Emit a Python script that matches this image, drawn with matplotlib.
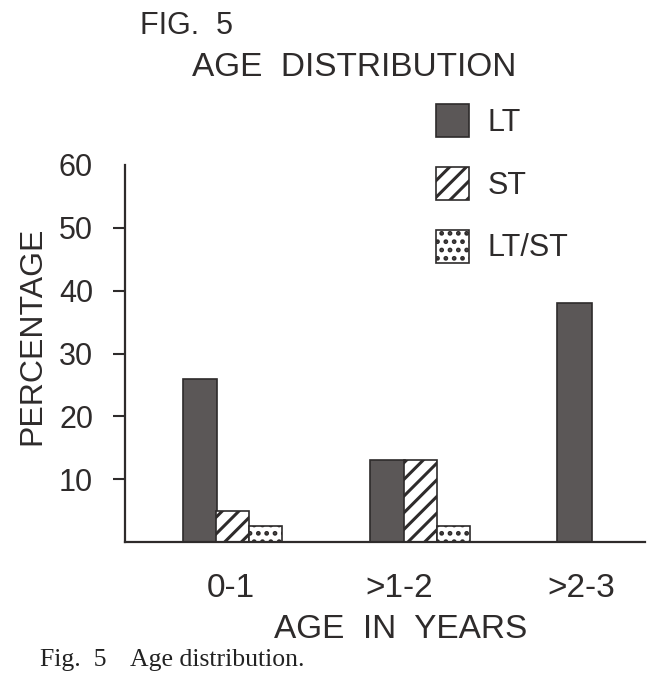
import matplotlib
matplotlib.use("Agg")
import matplotlib.pyplot as plt
import numpy as np
from matplotlib.patches import Patch

# data
categories = ['0-1', '>1-2', '>2-3']
series = ['LT', 'ST', 'LT/ST']
lt = [26, 13, 38]
st = [5, 13, 0]
lt_st = [2.5, 2.5, 0]
yticks = [10, 20, 30, 40, 50, 60]

ink = '#2e2b2b'
plt.rcParams['font.family'] = ['Liberation Sans', 'DejaVu Sans']
plt.rcParams['hatch.linewidth'] = 2.2
plt.rcParams['hatch.color'] = ink

fig = plt.figure(figsize=(6.5, 6.84), dpi=100)
ax = fig.add_axes([125/650, 142/684, 520/650, 377/684])

x = np.arange(len(categories))
w = 0.176
lt_bars = ax.bar(x - w, lt, w * 1.05, color='#5b5757', edgecolor=ink, linewidth=1.2, label='LT')
st_bars = ax.bar(x, st, w, color='white', edgecolor=ink, hatch='//', linewidth=1.2, label='ST')
ls_bars = ax.bar(x + w, lt_st, w, color='white', edgecolor=ink, hatch='..', linewidth=1.2, label='LT/ST')

ax.set_xlim(-0.576, 2.2)
ax.set_ylim(0, 60)
for s in ['top', 'right']:
    ax.spines[s].set_visible(False)
for s in ['left', 'bottom']:
    ax.spines[s].set_linewidth(1.6)
    ax.spines[s].set_color(ink)

ax.set_yticks(yticks)
ax.set_yticklabels([str(v) for v in yticks], fontsize=22, color=ink)
ax.tick_params(axis='y', length=9, width=1.5, color=ink, pad=14)
ax.yaxis.get_major_ticks()[-1].tick1line.set_visible(False)

# labels sit a bit left of the group centres in the original lettering
ax.set_xticks(x + np.array([-0.01, -0.11, -0.14]))
ax.set_xticklabels(categories, fontsize=24, color=ink)
ax.tick_params(axis='x', length=0, pad=22)

ax.set_ylabel('PERCENTAGE', fontsize=23, color=ink)
ax.yaxis.set_label_coords(-0.15, 0.546)
ax.set_xlabel('AGE  IN  YEARS', fontsize=24, color=ink)
ax.xaxis.set_label_coords(0.531, -0.19)

fig.text(140/650, 1 - 11/684, 'FIG.  5', fontsize=22, color=ink, va='top', ha='left')
fig.text(192/650, 1 - 52/684, 'AGE  DISTRIBUTION', fontsize=24, color=ink, va='top', ha='left')

handles = [Patch(facecolor='#5b5757', edgecolor=ink, linewidth=1.2),
           Patch(facecolor='white', edgecolor=ink, hatch='//', linewidth=1.2),
           Patch(facecolor='white', edgecolor=ink, hatch='..', linewidth=1.2)]
leg = fig.legend(handles, series, loc='upper left', bbox_to_anchor=(436/650, 1 - 104/684),
                 frameon=False, fontsize=22, handlelength=1.08, handleheight=1.285,
                 handletextpad=0.6, labelspacing=0.95, borderaxespad=0, borderpad=0)
for t in leg.get_texts():
    t.set_color(ink)

fig.text(40/650, 1 - 660/684, 'Fig.  5', fontsize=18.5, family='Liberation Serif', color='#222', va='center')
fig.text(130/650, 1 - 660/684, 'Age distribution.', fontsize=18.5, family='Liberation Serif', color='#222', va='center')

fig.savefig('out.png', dpi=100, facecolor='white')
